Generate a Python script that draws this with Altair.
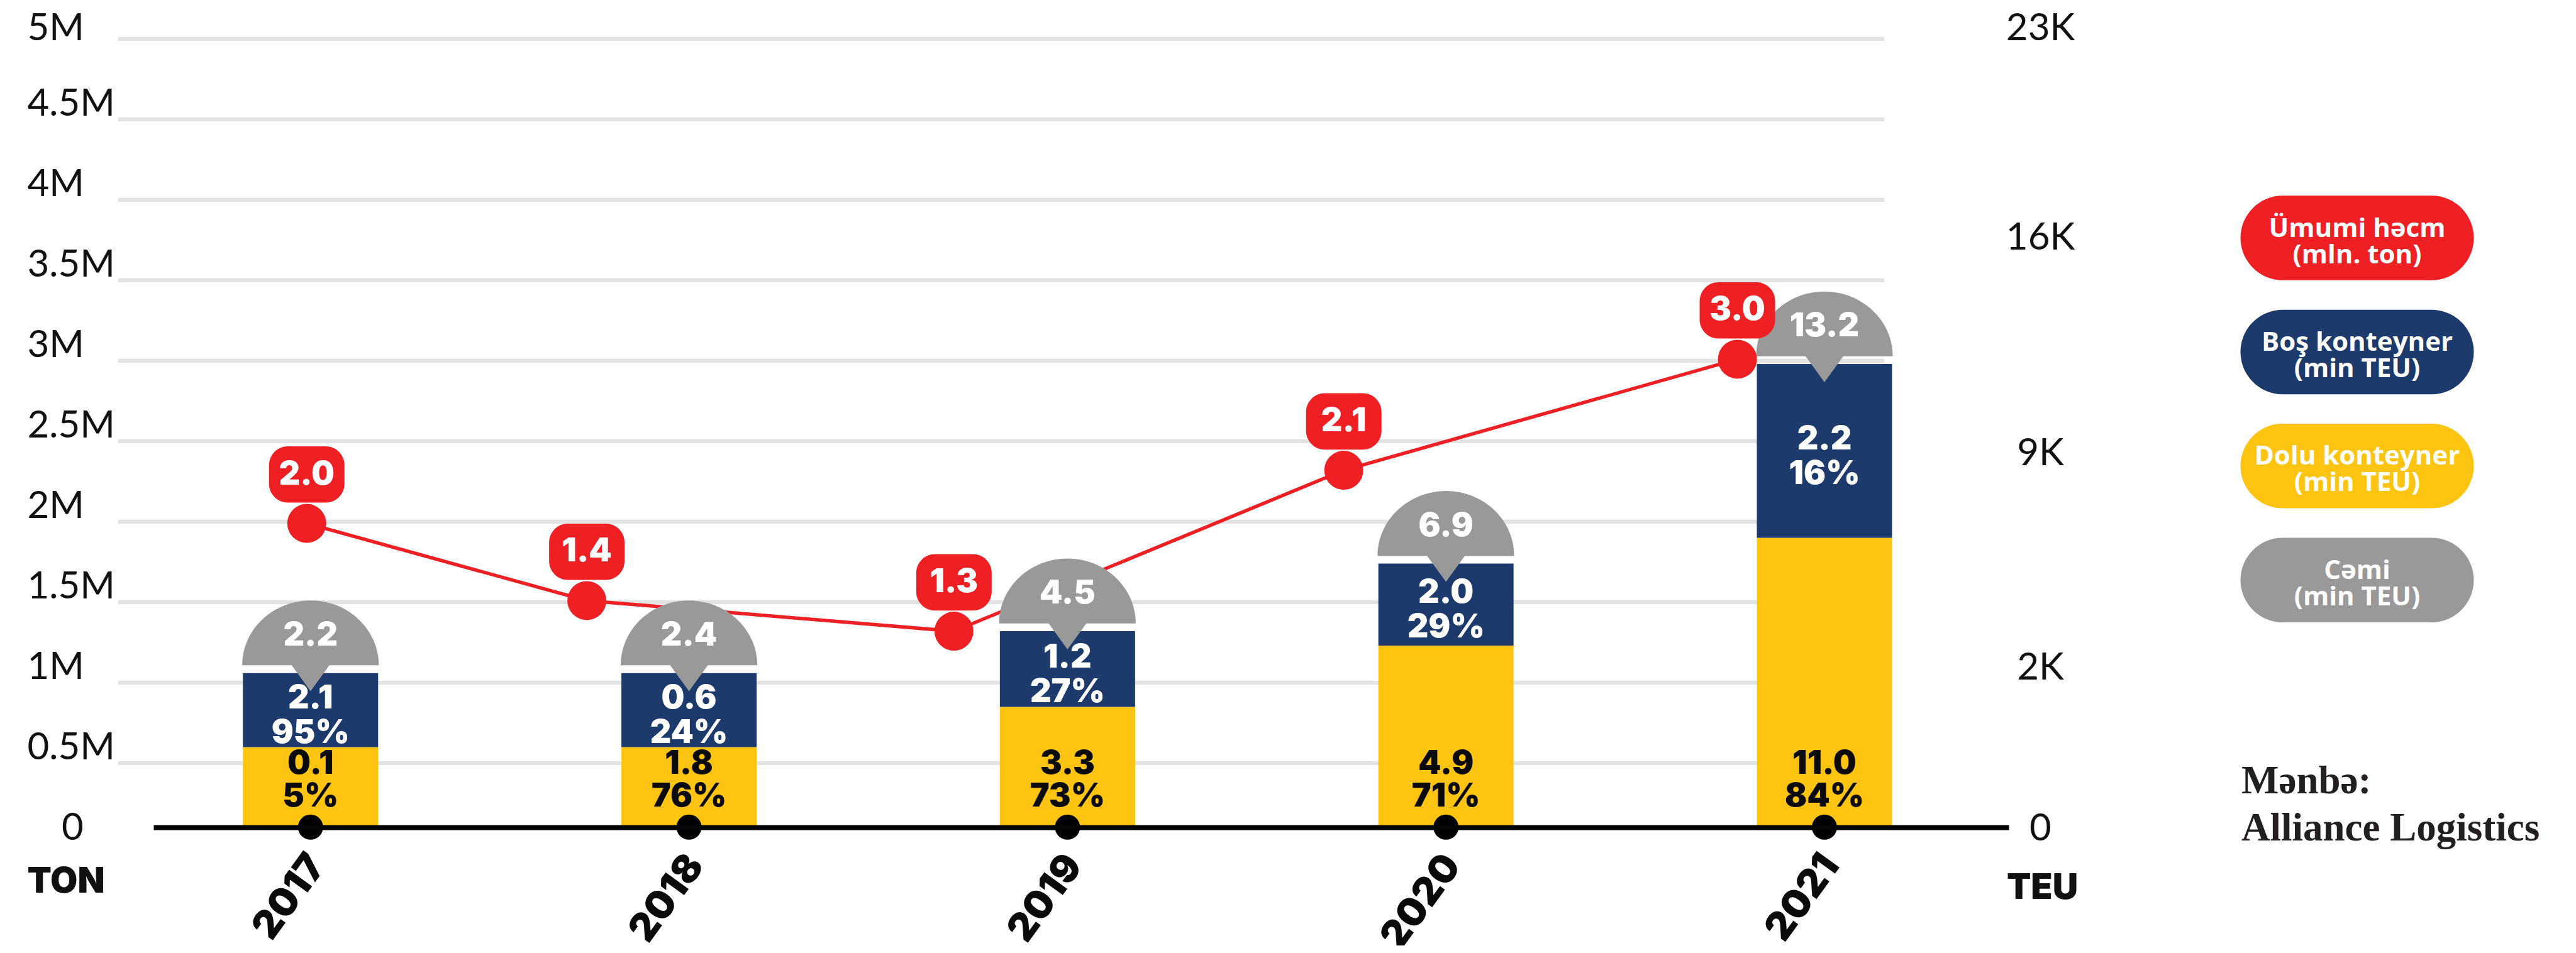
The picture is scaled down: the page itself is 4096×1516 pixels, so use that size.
import altair as alt
import pandas as pd

# ---------------- data ----------------
years = [2017, 2018, 2019, 2020, 2021]

# Ümumi həcm (mln. ton): printed labels, and where each dot sits
# (position along the year axis and height on the left TON axis)
total_ton_labels = ["2.0", "1.4", "1.3", "2.1", "3.0"]
total_ton_x = [2016.99, 2017.73, 2018.70, 2019.73, 2020.77]
total_ton_pos = [1.99, 1.51, 1.32, 2.32, 3.01]

# Dolu konteyner (min TEU) and share
dolu_vals = ["0.1", "1.8", "3.3", "4.9", "11.0"]
dolu_pcts = ["5%", "76%", "73%", "71%", "84%"]
# Boş konteyner (min TEU) and share
bos_vals = ["2.1", "0.6", "1.2", "2.0", "2.2"]
bos_pcts = ["95%", "24%", "27%", "29%", "16%"]
# Cəmi (min TEU)
cemi_vals = ["2.2", "2.4", "4.5", "6.9", "13.2"]

# stacked segment tops as drawn
dolu_top = [0.60, 0.60, 0.85, 1.23, 1.90]
bos_top = [1.06, 1.06, 1.32, 1.74, 2.98]

ton_ticks = [0, 0.5, 1, 1.5, 2, 2.5, 3, 3.5, 4, 4.5, 5]
ton_tick_labels = ["0", "0.5M", "1M", "1.5M", "2M", "2.5M", "3M", "3.5M", "4M", "4.5M", "5M"]
grid_vals = [0.5, 1, 1.5, 2, 2.5, 3, 3.5, 4, 4.5, 5]
teu_ticks = [0, 1.0, 2.33, 3.67, 5.0]
teu_tick_labels = ["0", "2K", "9K", "16K", "23K"]

legend_line1 = ["Ümumi həcm", "Boş konteyner", "Dolu konteyner", "Cəmi"]
legend_line2 = ["(mln. ton)", "(min TEU)", "(min TEU)", "(min TEU)"]
source_lines = ["Mənbə:", "Alliance Logistics"]

# ---------------- styles ----------------
RED = "#EE2024"
NAVY = "#1D3A6C"
YELLOW = "#FEC412"
GREY = "#999999"
GRIDC = "#E3E3E3"
INK = "#0B0B0B"
legend_colors = [RED, NAVY, YELLOW, GREY]

W, H = 2950, 1280
BASE = 1253.8          # pixel y of the black base line inside the plot
NUM_FONT = "Inter"

DOME = "M -1 0 A 1 0.95 0 0 1 1 0 L 0.276 0 L 0 0.38 L -0.276 0 Z"
BOX = ("M -0.5 -0.746 L 0.5 -0.746 A 0.5 0.5 0 0 1 1 -0.246 L 1 0.246 "
       "A 0.5 0.5 0 0 1 0.5 0.746 L -0.5 0.746 A 0.5 0.5 0 0 1 -1 0.246 "
       "L -1 -0.246 A 0.5 0.5 0 0 1 -0.5 -0.746 Z")
PILL = ("M -0.6375 -0.3625 L 0.6375 -0.3625 A 0.3625 0.3625 0 0 1 0.6375 0.3625 "
        "L -0.6375 0.3625 A 0.3625 0.3625 0 0 1 -0.6375 -0.3625 Z")

df = pd.DataFrame({
    "yr": years,
    "ton_x": total_ton_x, "ton_pos": total_ton_pos, "ton_label": total_ton_labels,
    "dolu_top": dolu_top, "bos_top": bos_top,
    "dolu_val": dolu_vals, "dolu_pct": dolu_pcts,
    "bos_val": bos_vals, "bos_pct": bos_pcts,
    "cemi": cemi_vals,
})
grid_df = pd.DataFrame({"v": grid_vals})
teu_df = pd.DataFrame({"p": teu_ticks})
legend_df = pd.DataFrame({"item": legend_line1, "l2": legend_line2})
src_df = pd.DataFrame({"line": source_lines})


def js_list(vals):
    return "[" + ",".join(repr(v) if isinstance(v, str) else str(v) for v in vals) + "]"


left_axis = alt.Axis(
    values=ton_ticks,
    labelExpr=f"{js_list(ton_tick_labels)}[indexof({js_list(ton_ticks)}, datum.value)]",
    labelAlign={"condition": {"test": "datum.value == 0", "value": "center"}, "value": "left"},
    labelPadding={"condition": {"test": "datum.value == 0", "value": 129}, "value": 201},
    labelOffset={"condition": {"test": "datum.value >= 5", "value": -17},
                 "value": -25},
    labelBaseline="middle",
    labelFont="Lato", labelFontSize=60, labelColor="#111111", labelFlush=False,
    labelOverlap=False, labelBound=False,
    ticks=False, tickSize=0, domain=False, grid=False,
    title="TON", titleX=-201, titleY=1357, titleAngle=0, titleAlign="left",
    titleBaseline="alphabetic", titleFont=NUM_FONT, titleFontWeight=900,
    titleFontSize=56, titleColor="#111111",
)
right_axis = alt.Axis(
    orient="right", values=teu_ticks,
    labelExpr=f"{js_list(teu_tick_labels)}[indexof({js_list(teu_ticks)}, datum.value)]",
    labelAlign="center", labelPadding=50,
    labelOffset={"condition": {"test": "datum.value >= 5", "value": -17}, "value": -24},
    labelBaseline="middle",
    labelFont="Lato", labelFontSize=60, labelColor="#111111", labelFlush=False,
    labelOverlap=False, labelBound=False,
    ticks=False, tickSize=0, domain=False, grid=False,
    title="TEU", titleX=53, titleY=1367, titleAngle=0, titleAlign="center",
    titleBaseline="alphabetic", titleFont=NUM_FONT, titleFontWeight=900,
    titleFontSize=56, titleColor="#111111",
)
x_axis = alt.Axis(
    values=years, format="d",
    labelAngle=306, labelAlign="right", labelBaseline="middle", labelPadding=50,
    labelOffset=10,
    labelFont=NUM_FONT, labelFontWeight=900, labelFontSize=62, labelColor=INK,
    labelOverlap=False, labelBound=False, labelFlush=False,
    ticks=False, tickSize=0, domainColor="#050505", domainWidth=8,
    offset=-26, zindex=1, grid=False,
)
yscale = alt.Scale(domain=[0, 5], nice=False)
xscale = alt.Scale(domain=[2016.5933, 2021.4786], nice=False, zero=False)


def X(field):
    return alt.X(field, scale=xscale, axis=x_axis, title=None)


def Y(field):
    return alt.Y(field, scale=yscale, axis=left_axis, stack=None)


grid = alt.Chart(grid_df).mark_rule(color=GRIDC, strokeWidth=6).encode(
    y=Y("v:Q"), x=alt.value(-56), x2=alt.value(2752))

base = alt.Chart(df)
yellow = base.mark_bar(color=YELLOW, width=215).encode(
    x=X("yr:Q"), y=Y("dolu_top:Q"), y2=alt.value(BASE))
blue = base.mark_bar(color=NAVY, width=215).encode(
    x=X("yr:Q"), y=Y("bos_top:Q"), y2="dolu_top:Q")
line = base.mark_line(color=RED, strokeWidth=5.5).encode(x=X("ton_x:Q"), y=Y("ton_pos:Q"))
dome = base.mark_point(shape=DOME, filled=True, color=GREY, opacity=1,
                       size=217.2 ** 2, yOffset=-12.3, strokeWidth=0).encode(
    x=X("yr:Q"), y=Y("bos_top:Q"))
txt = dict(font=NUM_FONT, fontWeight=900, fontSize=52, baseline="alphabetic", align="center")
dome_text = base.mark_text(color="white", dy=-44, **txt).encode(
    x=X("yr:Q"), y=Y("bos_top:Q"), text="cemi:N")
blue_mid = base.transform_calculate(mid="(datum.dolu_top + datum.bos_top) / 2")
blue_t1 = blue_mid.mark_text(color="white", dy=-2.5, **txt).encode(
    x=X("yr:Q"), y=Y("mid:Q"), text="bos_val:N")
blue_t2 = blue_mid.mark_text(color="white", dy=52.5, **txt).encode(
    x=X("yr:Q"), y=Y("mid:Q"), text="bos_pct:N")
yel_t1 = base.mark_text(color=INK, **txt).encode(
    x=X("yr:Q"), y=alt.value(BASE - 85), text="dolu_val:N")
yel_t2 = base.mark_text(color=INK, **txt).encode(
    x=X("yr:Q"), y=alt.value(BASE - 33), text="dolu_pct:N")
dots = base.mark_point(shape="circle", filled=True, color=RED, opacity=1,
                       size=3844, strokeWidth=0).encode(x=X("ton_x:Q"), y=Y("ton_pos:Q"))
boxes = base.mark_point(shape=BOX, filled=True, color=RED, opacity=1,
                        size=14400, yOffset=-77.7, strokeWidth=0).encode(
    x=X("ton_x:Q"), y=Y("ton_pos:Q"))
box_text = base.mark_text(color="white", dy=-62, **txt).encode(
    x=X("ton_x:Q"), y=Y("ton_pos:Q"), text="ton_label:N")
axis_dots = base.mark_point(shape="circle", filled=True, color="#000000", opacity=1,
                            size=1600, strokeWidth=0).encode(x=X("yr:Q"), y=alt.value(BASE))

main = alt.layer(grid, yellow, blue, line, dome, dome_text, blue_t1, blue_t2,
                 yel_t1, yel_t2, axis_dots, dots, boxes, box_text)

right = alt.Chart(teu_df).mark_rule(opacity=0).encode(
    y=alt.Y("p:Q", scale=yscale, axis=right_axis))

leg_y = alt.Y("item:N", scale=alt.Scale(type="point", domain=legend_line1,
                                        range=[316.5, 860.7], padding=0), axis=None)
leg_base = alt.Chart(legend_df)
pills = leg_base.mark_point(shape=PILL, filled=True, opacity=1, size=371 ** 2,
                            strokeWidth=0).encode(
    x=alt.value(3504), y=leg_y,
    color=alt.Color("item:N", scale=alt.Scale(domain=legend_line1, range=legend_colors),
                    legend=None))
ltxt = dict(font="Open Sans", fontWeight="bold", fontSize=42, color="white",
            align="center", baseline="alphabetic")
pill_t1 = leg_base.mark_text(dy=-2, **ltxt).encode(x=alt.value(3504), y=leg_y, text="item:N")
pill_t2 = leg_base.mark_text(dy=40, **ltxt).encode(x=alt.value(3504), y=leg_y, text="l2:N")
legend = alt.layer(pills, pill_t1, pill_t2)

source = alt.Chart(src_df).mark_text(
    font="Liberation Serif", fontWeight="bold", fontSize=63, align="left",
    baseline="alphabetic", color="#231F20").encode(
    x=alt.value(3320),
    y=alt.Y("line:N", scale=alt.Scale(type="point", domain=source_lines,
                                      range=[1199.6, 1274.7], padding=0), axis=None),
    text="line:N")

chart = alt.layer(main, right, legend, source).resolve_scale(
    y="independent", color="independent"
).properties(
    width=W, height=H,
    autosize=alt.AutoSizeParams(type="none"),
    padding={"left": 236, "top": 54, "right": 892, "bottom": 162},
).configure_view(strokeWidth=0)

chart.save("out.html", embed_options={"renderer": "svg", "actions": False})
